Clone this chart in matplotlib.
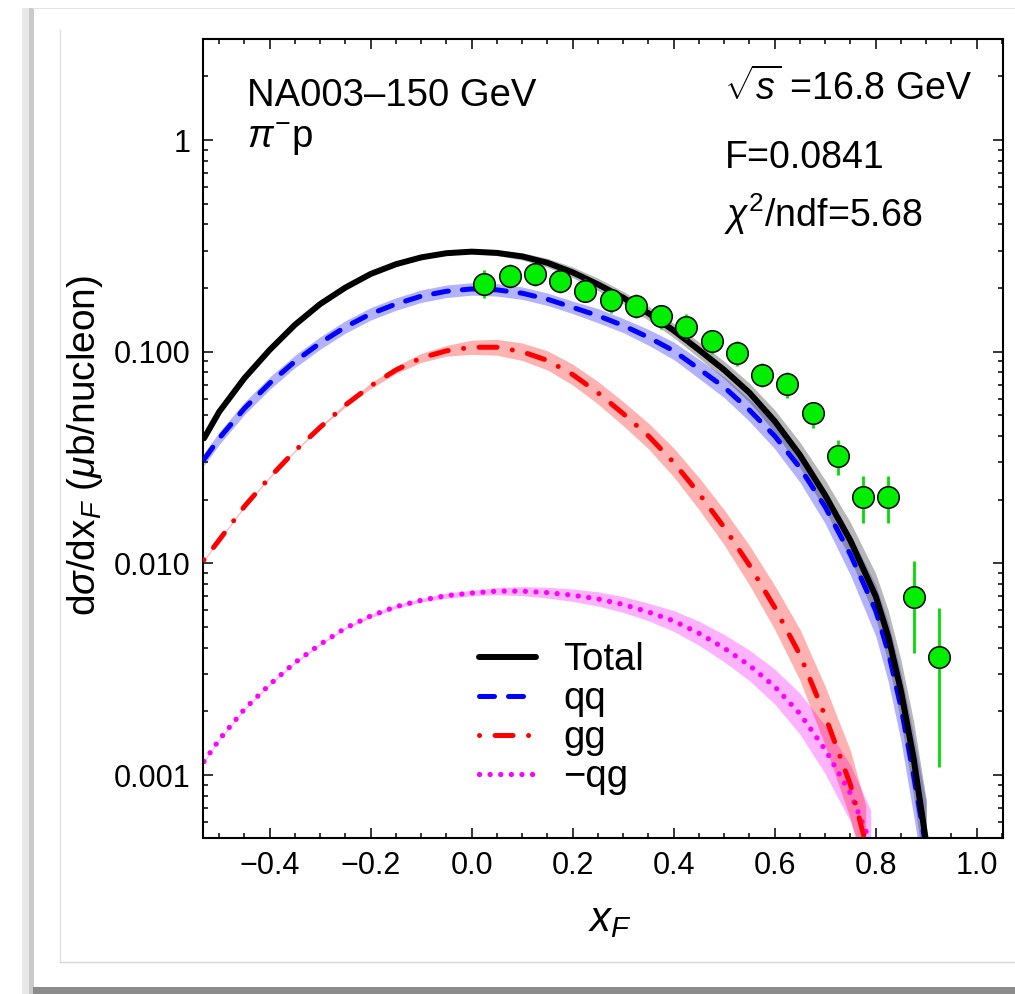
import matplotlib
matplotlib.use('Agg')
import matplotlib.pyplot as plt
from matplotlib.lines import Line2D
from matplotlib.patches import Rectangle
from matplotlib import ticker

plt.rcParams['font.family'] = ['Liberation Sans', 'DejaVu Sans']
plt.rcParams['mathtext.fontset'] = 'custom'
plt.rcParams['mathtext.rm'] = 'Liberation Sans'
plt.rcParams['mathtext.it'] = 'Liberation Sans:italic'
plt.rcParams['mathtext.sf'] = 'Liberation Sans'

# ---- data ----
x_total = [-0.53, -0.50, -0.45, -0.40, -0.35, -0.30, -0.25, -0.20, -0.15, -0.10,
           -0.05, 0.00, 0.05, 0.10, 0.15, 0.20, 0.25, 0.30, 0.35, 0.40, 0.45,
           0.50, 0.55, 0.60, 0.65, 0.70, 0.75, 0.80, 0.825, 0.85, 0.875, 0.90]
total = [0.039, 0.052, 0.075, 0.102, 0.134, 0.168, 0.201, 0.233, 0.259, 0.279,
         0.292, 0.297, 0.293, 0.282, 0.263, 0.237, 0.208, 0.180, 0.152, 0.126, 0.102,
         0.082, 0.064, 0.047, 0.0325, 0.021, 0.0128, 0.0070, 0.0045, 0.0025, 0.0012, 0.00048]
total_band = [1.01, 1.01, 1.01, 1.01, 1.01, 1.01, 1.01, 1.01, 1.01, 1.01,
              1.02, 1.02, 1.03, 1.04, 1.05, 1.06, 1.07, 1.07, 1.08, 1.08, 1.09,
              1.10, 1.11, 1.13, 1.15, 1.18, 1.22, 1.28, 1.33, 1.40, 1.50, 1.60]

x_qq = x_total
qq = [0.031, 0.039, 0.054, 0.071, 0.090, 0.110, 0.131, 0.151, 0.168, 0.183,
      0.193, 0.198, 0.196, 0.189, 0.177, 0.162, 0.148, 0.133, 0.117, 0.101, 0.083,
      0.068, 0.053, 0.040, 0.0283, 0.0185, 0.0110, 0.0060, 0.0038, 0.0021, 0.0010, 0.00045]
qq_band = [1.07, 1.07, 1.07, 1.07, 1.07, 1.07, 1.07, 1.07, 1.07, 1.07,
           1.07, 1.07, 1.07, 1.07, 1.07, 1.07, 1.08, 1.08, 1.09, 1.10, 1.11,
           1.12, 1.13, 1.15, 1.17, 1.20, 1.25, 1.32, 1.38, 1.45, 1.55, 1.65]

x_gg = [-0.53, -0.50, -0.45, -0.40, -0.35, -0.30, -0.25, -0.20, -0.15, -0.10,
        -0.05, 0.00, 0.05, 0.10, 0.15, 0.20, 0.25, 0.30, 0.35, 0.40, 0.45,
        0.50, 0.55, 0.60, 0.65, 0.70, 0.75, 0.78]
gg = [0.0104, 0.0129, 0.0186, 0.0255, 0.0340, 0.0440, 0.0560, 0.0690, 0.0820, 0.0935,
      0.101, 0.105, 0.105, 0.100, 0.091, 0.078, 0.064, 0.051, 0.040, 0.030, 0.0214,
      0.0148, 0.0098, 0.0062, 0.0037, 0.0019, 0.0009, 0.00048]
gg_band = [1.01, 1.01, 1.01, 1.01, 1.01, 1.01, 1.02, 1.03, 1.04, 1.05,
           1.06, 1.08, 1.09, 1.10, 1.11, 1.12, 1.13, 1.14, 1.15, 1.17, 1.19,
           1.21, 1.24, 1.27, 1.32, 1.38, 1.45, 1.50]

x_qg = [-0.53, -0.50, -0.45, -0.40, -0.35, -0.30, -0.25, -0.20, -0.15, -0.10,
        -0.05, 0.00, 0.05, 0.10, 0.15, 0.20, 0.25, 0.30, 0.35, 0.40, 0.45,
        0.50, 0.55, 0.60, 0.65, 0.70, 0.75, 0.79]
qg = [0.00116, 0.00147, 0.00205, 0.00268, 0.00340, 0.00415, 0.00495, 0.00565, 0.00625, 0.00670,
      0.00705, 0.00725, 0.00740, 0.00740, 0.00728, 0.00708, 0.00680, 0.00640, 0.00590, 0.00535, 0.00468,
      0.00398, 0.00330, 0.00262, 0.00195, 0.00132, 0.00082, 0.00048]
qg_band = [1.01, 1.01, 1.01, 1.01, 1.01, 1.01, 1.01, 1.02, 1.02, 1.02,
           1.03, 1.03, 1.04, 1.05, 1.06, 1.07, 1.08, 1.09, 1.10, 1.12, 1.14,
           1.16, 1.18, 1.21, 1.25, 1.30, 1.36, 1.42]

x_data = [0.025, 0.075, 0.125, 0.175, 0.225, 0.275, 0.325, 0.375, 0.425, 0.475,
          0.525, 0.575, 0.625, 0.675, 0.725, 0.775, 0.825, 0.875, 0.925]
y_data = [0.210, 0.229, 0.232, 0.216, 0.194, 0.175, 0.165, 0.147, 0.131, 0.112,
          0.0983, 0.0776, 0.0702, 0.0512, 0.0323, 0.0207, 0.0207, 0.00697, 0.0036]
y_lo = [0.180, 0.200, 0.205, 0.190, 0.171, 0.152, 0.145, 0.128, 0.115, 0.098,
        0.086, 0.068, 0.0605, 0.0435, 0.0262, 0.0155, 0.0155, 0.00376, 0.00109]
y_hi = [0.244, 0.260, 0.262, 0.244, 0.220, 0.198, 0.187, 0.167, 0.150, 0.127,
        0.112, 0.088, 0.080, 0.0577, 0.0383, 0.0259, 0.0259, 0.0103, 0.00614]

x_ticks = [-0.4, -0.2, 0.0, 0.2, 0.4, 0.6, 0.8, 1.0]
x_ticklabels = ['\u22120.4', '\u22120.2', '0.0', '0.2', '0.4', '0.6', '0.8', '1.0']
y_ticks = [0.001, 0.01, 0.1, 1]
y_ticklabels = ['0.001', '0.010', '0.100', '1']

W, H = 1015, 994
fig = plt.figure(figsize=(W / 100, H / 100), dpi=100)


def fx(px):
    return px / W


def fy(py):
    return 1 - py / H


# window-like frame around the plot, kept behind the axes
frame = [Rectangle((fx(22), fy(994)), fx(12), fy(8) - fy(994), color='#e8e8e8'),
         Rectangle((fx(29), fy(994)), fx(5), fy(8) - fy(994), color='#cacaca'),
         Rectangle((fx(33), fy(994)), 1, fy(987) - fy(994), color='#8c8c8c'),
         Rectangle((fx(33), fy(9)), 1, fy(8) - fy(9), color='#e4e4e4')]
for p in frame:
    p.set_transform(fig.transFigure)
    p.set_linewidth(0)
    p.set_zorder(-10)
    fig.add_artist(p)
fig.add_artist(Line2D([fx(60), fx(60)], [fy(962), fy(30)], transform=fig.transFigure,
                      color='#e2e2e2', lw=1, zorder=-9))
fig.add_artist(Line2D([fx(60), 1], [fy(962), fy(962)], transform=fig.transFigure,
                      color='#d8d8d8', lw=1, zorder=-9))

ax = fig.add_axes([fx(203), fy(838), fx(1003) - fx(203), fy(39) - fy(838)])
ax.set_yscale('log')
ax.set_facecolor('none')

# uncertainty bands
bands = [(x_qg, qg, qg_band, (1, 0, 1, 0.3)),
         (x_gg, gg, gg_band, (1, 0, 0, 0.3)),
         (x_qq, qq, qq_band, (0, 0, 1, 0.3)),
         (x_total, total, total_band, (0.3, 0.3, 0.3, 0.4))]
for xs, ys, fs, col in bands:
    lo = [v / f for v, f in zip(ys, fs)]
    hi = [v * f for v, f in zip(ys, fs)]
    ax.fill_between(xs, lo, hi, color=col, lw=0, zorder=1)

ax.plot(x_qg, qg, color='#ff00ff', lw=3.8, linestyle=(0, (0.01, 2.0)),
        dash_capstyle='round', zorder=2, label='\u2212qg')
ax.plot(x_gg, gg, color='#ff0000', lw=3.6, linestyle=(0, (0.01, 3.1, 3.6, 3.1)),
        dash_capstyle='round', zorder=3, label='gg')
ax.plot(x_qq, qq, color='#0000ff', lw=3.6, linestyle=(0, (3.0, 2.8)),
        dash_capstyle='round', zorder=4, label='qq')
ax.plot(x_total, total, color='black', lw=4.3, solid_capstyle='round',
        solid_joinstyle='round', zorder=5, label='Total')

err = [[v - l for v, l in zip(y_data, y_lo)], [h - v for v, h in zip(y_data, y_hi)]]
ax.errorbar(x_data, y_data, yerr=err, fmt='o', color='#00ee00', ecolor='#00dd00',
            elinewidth=2.0, capsize=0, ms=15.5, mec='black', mew=1.1, zorder=6)

ax.set_xlim(-0.532, 1.052)
ax.set_ylim(5.05e-4, 3.0)

ax.set_xticks(x_ticks)
ax.set_xticklabels(x_ticklabels)
ax.xaxis.set_minor_locator(ticker.MultipleLocator(0.05))
ax.set_yticks(y_ticks)
ax.set_yticklabels(y_ticklabels)
ax.yaxis.set_minor_locator(ticker.LogLocator(base=10, subs=range(2, 10)))
ax.yaxis.set_minor_formatter(ticker.NullFormatter())
ax.tick_params(which='both', direction='in', top=True, right=True,
               labelsize=22, width=1.1)
ax.tick_params(which='major', length=7.2, pad=9)
ax.tick_params(which='minor', length=3.6)
for sp in ax.spines.values():
    sp.set_linewidth(1.5)

# annotations
ax.text(fx(247), fy(106), 'NA003\u2013150 GeV', transform=fig.transFigure,
        fontsize=27.5, va='baseline', ha='left')
ax.text(fx(247), fy(148), r'$\pi^{-}$p', transform=fig.transFigure,
        fontsize=27.5, va='baseline', ha='left')
ax.text(fx(724), fy(100), r'$\sqrt{s}$ =16.8 GeV', transform=fig.transFigure,
        fontsize=27, va='baseline', ha='left')
ax.text(fx(725), fy(168), 'F=0.0841', transform=fig.transFigure,
        fontsize=27, va='baseline', ha='left')
ax.text(fx(724), fy(227), r'$\chi^2$/ndf=5.68', transform=fig.transFigure,
        fontsize=27, va='baseline', ha='left')

fig.text(fx(85), fy(445), r'd$\sigma$/dx$_F$ ($\mu$b/nucleon)', rotation=90,
         fontsize=28, ha='center', va='center')
fig.text(fx(610), fy(920), r'$x_F$', fontsize=30, ha='center', va='center')

handles, labels = ax.get_legend_handles_labels()
order = [3, 2, 1, 0]
ax.legend([handles[i] for i in order], [labels[i] for i in order],
          loc='upper left', bbox_to_anchor=(fx(479), fy(642)),
          bbox_transform=fig.transFigure, frameon=False, fontsize=27.5,
          handlelength=1.5, handletextpad=0.7, labelspacing=0.08, borderpad=0,
          borderaxespad=0)

fig.savefig('out.png', dpi=100)
